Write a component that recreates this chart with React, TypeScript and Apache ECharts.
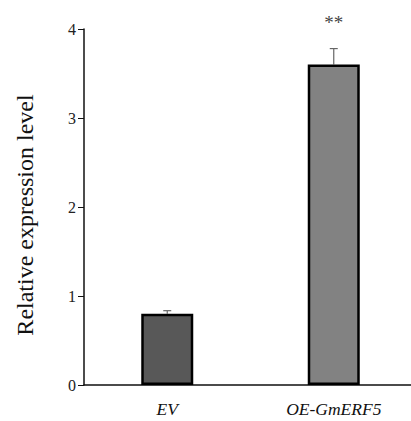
import React, { useEffect, useRef } from "react";
import * as echarts from "echarts";

const categories = ["EV", "OE-GmERF5"];
const values = [0.8, 3.6];
const errors = [0.035, 0.18];
const significance = ["", "**"];
const barColors = ["#585858", "#828282"];
const yTicks = [0, 1, 2, 3, 4];

export default function App() {
  const ref = useRef<HTMLDivElement>(null);
  useEffect(() => {
    const chart = echarts.init(ref.current!, null, { renderer: "svg" });
    const serif = "'Liberation Serif', 'DejaVu Serif', serif";
    chart.setOption({
      animation: false,
      backgroundColor: "#ffffff",
      grid: { left: 84, right: 0, top: 29, bottom: 36, containLabel: false },
      xAxis: {
        type: "category",
        data: categories,
        axisLine: { lineStyle: { color: "#111", width: 1.5 } },
        axisTick: { show: false },
        axisLabel: {
          color: "#111",
          fontFamily: serif,
          fontStyle: "italic",
          fontSize: 17.5,
          margin: 15,
        },
      },
      yAxis: {
        type: "value",
        min: yTicks[0],
        max: yTicks[yTicks.length - 1],
        interval: 1,
        name: "Relative expression level",
        nameLocation: "middle",
        nameGap: 47,
        nameTextStyle: { color: "#111", fontFamily: serif, fontSize: 24, padding: [0, 16, 0, 0] },
        axisLine: { show: true, lineStyle: { color: "#111", width: 1.5 } },
        axisTick: { show: true, length: 6, lineStyle: { color: "#111", width: 1 } },
        axisLabel: { color: "#222", fontFamily: serif, fontSize: 16, margin: 8 },
        splitLine: { show: false },
      },
      series: [
        {
          type: "bar",
          barWidth: 52,
          data: values.map((v, i) => ({
            value: v,
            itemStyle: { color: barColors[i], borderColor: "#000", borderWidth: 2.5 },
          })),
        },
        {
          type: "custom",
          z: 1,
          data: values.map((v, i) => [i, v, errors[i]]),
          renderItem: (params: any, api: any) => {
            const x = api.value(0);
            const v = api.value(1);
            const e = api.value(2);
            const idx = params.dataIndex;
            const base = api.coord([x, v]);
            const top = api.coord([x, v + e]);
            const children: any[] = [
              {
                type: "line",
                shape: { x1: base[0], y1: base[1], x2: top[0], y2: top[1] },
                style: { stroke: "#666", lineWidth: 1.2 },
              },
              {
                type: "line",
                shape: { x1: top[0] - 4, y1: top[1], x2: top[0] + 4, y2: top[1] },
                style: { stroke: "#666", lineWidth: 1.2 },
              },
            ];
            const sig = significance[idx];
            if (sig) {
              children.push({
                type: "text",
                x: top[0],
                y: 22,
                style: {
                  text: sig,
                  fill: "#444",
                  font: "19px 'Liberation Serif', serif",
                  align: "center",
                  verticalAlign: "middle",
                },
              });
            }
            return { type: "group", children };
          },
        },
      ],
    });
    return () => chart.dispose();
  }, []);
  return (
    <div style={{ width: 411, height: 421, position: "absolute", left: 0, top: 0, overflow: "hidden" }}>
      <div ref={ref} style={{ width: 417, height: 421 }} />
    </div>
  );
}
